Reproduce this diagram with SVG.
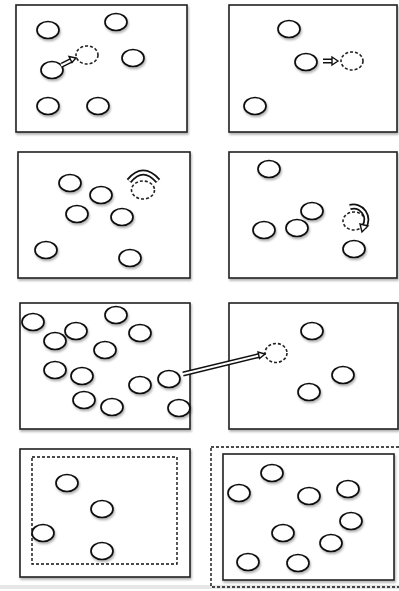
<svg xmlns="http://www.w3.org/2000/svg" width="399" height="591" viewBox="0 0 399 591">
<defs>
<filter id="sh" x="-30%" y="-30%" width="160%" height="170%">
<feDropShadow dx="1" dy="2" stdDeviation="1.2" flood-color="#000" flood-opacity="0.3"/>
</filter>
</defs>
<style>
.panel{fill:#fff;stroke:#222;stroke-width:1.6;filter:url(#sh)}
.n{fill:#fff;stroke:#111;stroke-width:1.7;filter:url(#sh)}
.d{fill:#fff;stroke:#222;stroke-width:1.6;stroke-dasharray:3 2}
.dr{fill:none;stroke:#111;stroke-width:1.4;stroke-dasharray:3 2}
.ao{fill:none;stroke:#111;stroke-width:5}
.ai{fill:none;stroke:#fff;stroke-width:2}
.ah{fill:#fff;stroke:#111;stroke-width:1.4;stroke-linejoin:miter}
</style>
<rect x="0" y="585" width="399" height="4" fill="#e6e6e6"/>
<g id="panel1">
<rect class="panel" x="16" y="5" width="171" height="127"/>
<ellipse class="n" cx="48" cy="30" rx="11" ry="8.5"/>
<ellipse class="n" cx="116" cy="22" rx="11" ry="8.5"/>
<ellipse class="n" cx="133" cy="58" rx="11" ry="8.5"/>
<ellipse class="n" cx="52" cy="70" rx="11" ry="8.5"/>
<ellipse class="d" cx="87" cy="55" rx="11" ry="9"/>
<ellipse class="n" cx="48" cy="106" rx="11" ry="8.5"/>
<ellipse class="n" cx="98" cy="106" rx="11" ry="8.5"/>
</g>
<g id="panel2">
<rect class="panel" x="229" y="5" width="168" height="127"/>
<ellipse class="n" cx="289" cy="29" rx="11" ry="8.5"/>
<ellipse class="n" cx="306" cy="62" rx="11" ry="8.5"/>
<ellipse class="d" cx="352" cy="61" rx="11" ry="9"/>
<ellipse class="n" cx="255" cy="106" rx="11" ry="8.5"/>
</g>
<g id="panel3">
<rect class="panel" x="18" y="152" width="172" height="126"/>
<ellipse class="n" cx="70" cy="183" rx="11" ry="8.5"/>
<ellipse class="n" cx="101" cy="195" rx="11" ry="8.5"/>
<ellipse class="n" cx="77" cy="214" rx="11" ry="8.5"/>
<ellipse class="n" cx="122" cy="217" rx="11" ry="8.5"/>
<ellipse class="n" cx="46" cy="250" rx="11" ry="8.5"/>
<ellipse class="n" cx="130" cy="258" rx="11" ry="8.5"/>
<ellipse class="d" cx="143" cy="190" rx="11.5" ry="9"/>
</g>
<g id="panel4">
<rect class="panel" x="229" y="152" width="168" height="126"/>
<ellipse class="n" cx="269" cy="169" rx="11" ry="8.5"/>
<ellipse class="n" cx="312" cy="211" rx="11" ry="8.5"/>
<ellipse class="n" cx="264" cy="230" rx="11" ry="8.5"/>
<ellipse class="n" cx="297" cy="228" rx="11" ry="8.5"/>
<ellipse class="d" cx="354" cy="221" rx="11" ry="9"/>
<ellipse class="n" cx="354" cy="249" rx="11" ry="8.5"/>
</g>
<g id="panel5">
<rect class="panel" x="20" y="303" width="170" height="126"/>
<ellipse class="n" cx="33" cy="322" rx="11" ry="8.5"/>
<ellipse class="n" cx="55" cy="341" rx="11" ry="8.5"/>
<ellipse class="n" cx="76" cy="331" rx="11" ry="8.5"/>
<ellipse class="n" cx="116" cy="315" rx="11" ry="8.5"/>
<ellipse class="n" cx="140" cy="333" rx="11" ry="8.5"/>
<ellipse class="n" cx="105" cy="350" rx="11" ry="8.5"/>
<ellipse class="n" cx="55" cy="370" rx="11" ry="8.5"/>
<ellipse class="n" cx="82" cy="376" rx="11" ry="8.5"/>
<ellipse class="n" cx="140" cy="385" rx="11" ry="8.5"/>
<ellipse class="n" cx="169" cy="379" rx="11" ry="8.5"/>
<ellipse class="n" cx="84" cy="400" rx="11" ry="8.5"/>
<ellipse class="n" cx="112" cy="407" rx="11" ry="8.5"/>
<ellipse class="n" cx="179" cy="408" rx="11" ry="8.5"/>
</g>
<g id="panel6">
<rect class="panel" x="229" y="303" width="169" height="126"/>
<ellipse class="d" cx="276" cy="353" rx="11" ry="9.5"/>
<ellipse class="n" cx="312" cy="331" rx="11" ry="8.5"/>
<ellipse class="n" cx="343" cy="375" rx="11" ry="8.5"/>
<ellipse class="n" cx="309" cy="392" rx="11" ry="8.5"/>
</g>
<g id="panel7">
<rect class="panel" x="20" y="449" width="170" height="128"/>
<rect class="dr" x="32" y="457" width="145" height="107"/>
<ellipse class="n" cx="67" cy="483" rx="11" ry="8.5"/>
<ellipse class="n" cx="102" cy="509" rx="11" ry="8.5"/>
<ellipse class="n" cx="43" cy="533" rx="11" ry="8.5"/>
<ellipse class="n" cx="102" cy="551" rx="11" ry="8.5"/>
</g>
<g id="panel8">
<rect class="dr" x="211" y="447" width="192" height="140"/>
<rect class="panel" x="223" y="454" width="171" height="126"/>
<ellipse class="n" cx="272" cy="473" rx="11" ry="8.5"/>
<ellipse class="n" cx="239" cy="493" rx="11" ry="8.5"/>
<ellipse class="n" cx="309" cy="496" rx="11" ry="8.5"/>
<ellipse class="n" cx="348" cy="489" rx="11" ry="8.5"/>
<ellipse class="n" cx="351" cy="521" rx="11" ry="8.5"/>
<ellipse class="n" cx="283" cy="533" rx="11" ry="8.5"/>
<ellipse class="n" cx="331" cy="543" rx="11" ry="8.5"/>
<ellipse class="n" cx="248" cy="562" rx="11" ry="8.5"/>
<ellipse class="n" cx="298" cy="563" rx="11" ry="8.5"/>
</g>
<g id="connectors">
<path class="ao" d="M62 65 L72 60"/>
<path class="ai" d="M61 65.5 L72 60"/>
<polygon class="ah" points="76,58 69,56.5 72,62.5"/>
<path class="ao" d="M323 61 L333 61"/>
<path class="ai" d="M322 61 L333 61"/>
<polygon class="ah" points="338,61 332,57 332,65"/>
<path class="ao" d="M183 374 L259 355.5"/>
<path class="ai" d="M182 374.3 L259 355.5"/>
<polygon class="ah" points="265,354 258,352 259.5,358.5"/>
<path d="M129 181 Q143 164 158 181" fill="none" stroke="#111" stroke-width="6"/>
<path d="M129 181 Q143 164 158 181" fill="none" stroke="#fff" stroke-width="2.5"/>
<path d="M350 207 A13 13 0 0 1 364 227" fill="none" stroke="#111" stroke-width="6"/>
<path d="M350 207 A13 13 0 0 1 364 227" fill="none" stroke="#fff" stroke-width="2.5"/>
<polygon class="ah" points="362,232 360,224 368,226"/>
</g>
</svg>
